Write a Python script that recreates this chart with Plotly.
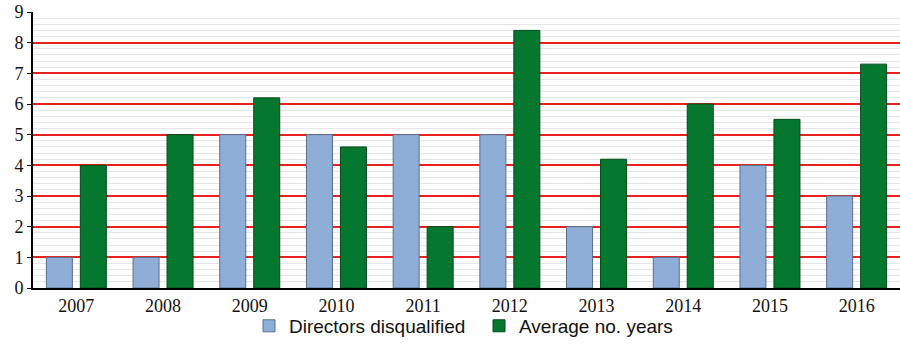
import plotly.graph_objects as go

years = ["2007", "2008", "2009", "2010", "2011", "2012", "2013", "2014", "2015", "2016"]
directors = [1, 1, 5, 5, 5, 5, 2, 1, 4, 3]
avg_years = [4, 5, 6.2, 4.6, 2, 8.4, 4.2, 6, 5.5, 7.3]

fig = go.Figure()
fig.add_trace(go.Bar(x=years, y=directors, name="Directors disqualified",
                     marker=dict(color="#8eaed8", line=dict(color="#5a6f8c", width=1))))
fig.add_trace(go.Bar(x=years, y=avg_years, name="Average no. years",
                     marker=dict(color="#06772f", line=dict(color="#034a1c", width=1))))

fig.update_layout(
    width=900, height=346,
    margin=dict(l=33, r=0, t=12, b=58, autoexpand=False),
    plot_bgcolor="white", paper_bgcolor="white",
    barmode="group", bargap=0.216, bargroupgap=0.235,
    showlegend=True,
    legend=dict(orientation="h", x=249 / 900, xanchor="left", xref="container",
                y=0.058, yanchor="middle", yref="container",
                bgcolor="rgba(0,0,0,0)",
                font=dict(family="Liberation Sans, Arial", size=19, color="#111"),
                itemwidth=30, entrywidth=185, entrywidthmode="pixels",
                traceorder="normal"),
    font=dict(family="Liberation Serif, Times New Roman", size=18, color="#111"),
)
fig.update_yaxes(range=[0, 9], dtick=1, showline=True, linecolor="black", linewidth=2,
                 gridcolor="#e8211f", gridwidth=1.5, zeroline=False,
                 ticks="outside", ticklen=4, tickcolor="black",
                 minor=dict(dtick=0.2, showgrid=True, gridcolor="#e6e6e6", gridwidth=1))
fig.update_xaxes(showline=True, linecolor="black", linewidth=2, showgrid=False,
                 ticks="", tickfont=dict(size=18))

fig.write_html("out.html")
